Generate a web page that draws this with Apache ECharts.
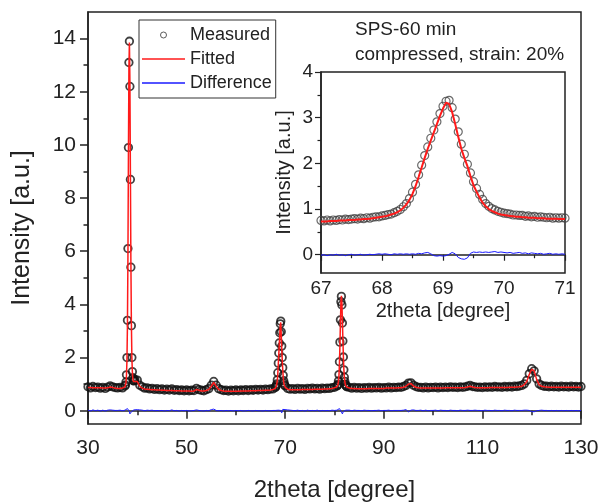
<!DOCTYPE html>
<html>
<head>
<meta charset="utf-8">
<script src="https://cdn.jsdelivr.net/npm/echarts@6/dist/echarts.min.js"></script>
<style>html,body{margin:0;padding:0;background:#fff;}#chart{width:601px;height:502px;}</style>
</head>
<body>
<div id="chart"></div>
<script>
// ---------- main pattern (2theta 30-130) ----------
const mainTheta = [
30,30.5,31,31.5,32,32.5,33,33.5,34,34.5,35,35.5,36,36.5,37,37.5,
37.6,37.7,37.8,37.9,38.0,38.1,38.2,38.3,38.4,38.5,38.6,38.7,38.8,38.9,39.0,39.1,39.2,39.3,39.4,
39.5,40,40.5,41,41.5,42,42.5,43,43.5,44,44.5,45,45.5,46,46.5,47,47.5,48,48.5,49,49.5,50,50.5,51,51.5,52,52.5,53,53.5,54,54.5,55,55.5,56,56.5,57,57.5,58,58.5,59,59.5,60,60.5,61,61.5,62,62.5,63,63.5,64,64.5,65,65.5,66,66.5,67,67.5,68,
68.1,68.2,68.3,68.4,68.5,68.6,68.7,68.8,68.9,69.0,69.1,69.2,69.3,69.4,69.5,69.6,69.7,69.8,69.9,70.0,
70.5,71,71.5,72,72.5,73,73.5,74,74.5,75,75.5,76,76.5,77,77.5,78,78.5,79,79.5,80,80.5,
80.6,80.7,80.8,80.9,81.0,81.1,81.2,81.3,81.4,81.5,81.6,81.7,81.8,81.9,82.0,82.1,82.2,82.3,82.4,
82.5,83,83.5,84,84.5,85,85.5,86,86.5,87,87.5,88,88.5,89,89.5,90,90.5,91,91.5,92,92.5,93,93.5,94,94.5,95,95.5,96,96.5,97,97.5,98,98.5,99,99.5,100,
100.5,101,101.5,102,102.5,103,103.5,104,104.5,105,105.5,106,106.5,107,107.5,108,108.5,109,109.5,110,110.5,111,111.5,112,112.5,113,113.5,114,114.5,115,
115.5,116,116.5,117,117.5,118,118.5,119,119.5,120,120.5,121,121.5,122,122.5,123,123.5,124,124.5,125,125.5,126,126.5,127,127.5,128,128.5,129,129.5,130
];
const mainMeasured = [
.90,.86,.91,.87,.89,.85,.88,.84,.89,.93,.90,.87,.86,.88,.86,.93,
.97,1.08,1.35,2.00,3.40,6.10,9.90,13.10,13.90,12.20,8.70,5.40,3.20,2.00,1.47,1.24,1.13,1.12,1.15,
1.18,1.15,.96,.90,.85,.86,.82,.84,.80,.83,.79,.82,.78,.81,.78,.82,.77,.79,.76,.78,.75,.78,.75,.77,.76,.84,.79,.77,.75,.79,.83,.96,1.10,.96,.83,.79,.76,.77,.74,.77,.75,.78,.75,.78,.76,.79,.76,.79,.77,.80,.78,.80,.78,.81,.79,.82,.82,.87,
.90,.95,1.01,1.16,1.43,1.79,2.17,2.55,2.93,3.27,3.37,2.97,2.43,2.00,1.62,1.33,1.13,1.03,.96,.93,
.84,.81,.83,.80,.84,.81,.83,.80,.84,.82,.85,.82,.84,.81,.85,.83,.85,.84,.87,.88,.93,
.95,1.00,1.12,1.36,1.84,2.58,3.42,4.10,4.30,3.98,3.30,2.62,2.02,1.54,1.26,1.10,1.00,.95,.92,
.90,.88,.85,.88,.85,.87,.84,.87,.85,.88,.85,.87,.86,.88,.85,.87,.86,.89,.86,.88,.87,.89,.88,.91,.95,1.04,1.05,.96,.91,.88,.88,.86,.89,.86,.88,.87,
.89,.86,.89,.87,.89,.87,.90,.88,.89,.87,.90,.88,.90,.92,.95,.91,.90,.88,.89,.87,.90,.88,.90,.88,.91,.89,.90,.88,.91,.89,
.91,.89,.92,.91,.93,.95,1.01,1.14,1.39,1.58,1.50,1.20,1.01,.95,.92,.92,.90,.92,.90,.91,.89,.92,.90,.91,.89,.92,.90,.91,.89,.91
];
const mainFitted = [
.87,.87,.86,.86,.86,.86,.85,.85,.86,.89,.87,.85,.84,.84,.85,.90,
.95,1.05,1.30,1.90,3.20,5.80,9.60,12.90,13.85,12.40,9.00,5.60,3.30,2.00,1.45,1.20,1.10,1.08,1.10,
1.14,1.10,.92,.85,.82,.81,.80,.79,.79,.78,.78,.77,.77,.76,.76,.76,.75,.75,.75,.74,.74,.74,.74,.73,.74,.80,.77,.74,.74,.76,.80,.92,1.06,.92,.80,.76,.74,.73,.73,.73,.73,.73,.73,.74,.74,.74,.74,.75,.75,.75,.76,.76,.76,.77,.77,.78,.80,.84,
.88,.92,.98,1.13,1.40,1.75,2.12,2.48,2.88,3.24,3.32,2.86,2.34,1.92,1.55,1.27,1.07,.97,.91,.88,
.81,.79,.79,.79,.79,.79,.80,.80,.80,.80,.80,.81,.81,.81,.81,.82,.82,.83,.84,.86,.90,
.93,.98,1.08,1.30,1.75,2.45,3.30,4.05,4.32,4.05,3.40,2.70,2.05,1.55,1.25,1.08,.98,.93,.90,
.88,.85,.84,.84,.83,.83,.83,.83,.83,.84,.84,.84,.84,.84,.84,.84,.85,.85,.85,.85,.85,.86,.86,.88,.92,1.00,1.02,.93,.88,.86,.85,.85,.85,.85,.85,.85,
.85,.85,.85,.85,.86,.86,.86,.86,.86,.86,.86,.86,.87,.89,.92,.89,.87,.86,.86,.86,.86,.86,.87,.87,.87,.87,.87,.87,.87,.87,
.88,.88,.88,.89,.90,.92,.98,1.10,1.36,1.56,1.50,1.18,.98,.92,.90,.89,.88,.88,.88,.88,.88,.88,.88,.88,.88,.88,.88,.88,.88,.88
];
const mainDifference = [
.02,-.01,.03,.00,.02,-.01,.02,-.01,.02,.03,.02,.01,.01,.02,.00,.02,
.01,.02,.02,.04,.08,.12,.10,.05,-.03,-.12,-.16,-.10,-.04,.00,.02,.03,.01,.03,.02,
.03,.04,.03,.02,.00,.02,.01,.02,.00,.01,.00,.01,-.01,.01,.00,.03,.00,.01,-.01,.01,.00,.01,-.01,.00,.01,.03,.01,.00,-.01,.01,.00,.04,.06,.01,.00,.01,-.01,.01,.00,.01,-.01,.01,.00,.01,-.01,.00,.01,.00,-.01,.01,.00,.00,-.01,.01,.00,.00,.01,.01,
.01,.02,.01,.02,.03,.02,.04,.03,-.03,-.02,.01,.03,-.08,-.06,.05,.06,.05,.05,.04,.04,
.03,.02,.01,.00,.02,.00,.01,-.01,.02,.00,.01,.00,.02,-.01,.01,.00,.01,.00,.02,.01,.02,
.01,.02,.03,.05,.08,.10,.07,.03,-.04,-.10,-.12,-.08,-.03,.00,.01,.02,.01,.02,.01,
.01,.02,.00,.02,.01,.01,.00,.02,.01,.01,.00,.01,.01,.02,.00,.01,.01,.02,.00,.01,.01,.01,.01,.02,.04,-.04,.02,.03,.01,.01,.02,.00,.02,.00,.01,.01,
.02,.00,.02,.01,.01,.00,.02,.01,.01,.00,.02,.01,.01,.02,.01,.01,.02,.01,.01,.00,.02,.01,.01,.00,.02,.01,.01,.00,.02,.01,
.01,.00,.02,.01,.01,.01,.02,.02,.01,-.03,-.04,.00,.01,.02,.01,.01,.00,.01,.00,.01,.00,.01,.00,.01,.00,.01,.00,.01,.00,.01
];

// ---------- inset (2theta 67-71) ----------
const insetTheta = [
67.00,67.05,67.10,67.15,67.20,67.25,67.30,67.35,67.40,67.45,67.50,67.55,67.60,67.65,67.70,67.75,67.80,67.85,67.90,67.95,
68.00,68.05,68.10,68.15,68.20,68.25,68.30,68.35,68.40,68.45,68.50,68.55,68.60,68.65,68.70,68.75,68.80,68.85,68.90,68.95,
69.00,69.05,69.10,69.15,69.20,69.25,69.30,69.35,69.40,69.45,69.50,69.55,69.60,69.65,69.70,69.75,69.80,69.85,69.90,69.95,
70.00,70.05,70.10,70.15,70.20,70.25,70.30,70.35,70.40,70.45,70.50,70.55,70.60,70.65,70.70,70.75,70.80,70.85,70.90,70.95,71.00
];
const insetMeasured = [
.75,.74,.76,.74,.76,.75,.77,.76,.78,.77,.78,.79,.78,.80,.79,.81,.80,.82,.83,.83,
.85,.86,.88,.89,.92,.95,.99,1.05,1.12,1.23,1.37,1.54,1.75,1.96,2.17,2.36,2.55,2.73,2.91,3.09,
3.25,3.36,3.38,3.22,2.97,2.69,2.42,2.20,1.98,1.79,1.60,1.45,1.32,1.21,1.12,1.06,1.01,.98,.95,.93,
.91,.90,.89,.87,.87,.86,.86,.84,.85,.83,.84,.82,.83,.82,.81,.82,.80,.81,.80,.81,.80
];
const insetFitted = [
.73,.73,.73,.74,.74,.74,.75,.75,.75,.76,.76,.76,.77,.77,.78,.78,.79,.80,.81,.82,
.83,.84,.86,.88,.90,.93,.97,1.03,1.10,1.20,1.33,1.50,1.70,1.91,2.12,2.32,2.50,2.68,2.86,3.04,
3.20,3.33,3.30,3.12,2.86,2.58,2.32,2.12,1.94,1.72,1.52,1.38,1.25,1.14,1.06,1.00,.96,.93,.90,.88,
.87,.86,.85,.84,.83,.83,.82,.82,.81,.81,.81,.80,.80,.80,.79,.79,.79,.79,.78,.78,.78
];
const insetDifference = [
-.01,.00,-.02,.00,-.01,.01,-.01,.00,-.02,.00,.01,-.01,.00,.01,-.01,.00,.01,.00,.01,.02,
.01,.02,.01,.00,.02,.01,.02,.01,.02,.01,.02,.01,.03,.02,.04,.05,.02,-.02,-.03,-.02,
-.03,-.02,.01,.05,.02,-.06,-.09,-.10,-.07,.03,.06,.05,.06,.05,.06,.05,.06,.07,.05,.06,
.05,.04,.05,.03,.04,.05,.03,.04,.02,.04,.03,.02,.03,.01,.02,.03,.01,.02,.01,.02,.01
];

// ---------- ticks ----------
const mainYMajor = [0,2,4,6,8,10,12,14];
const mainYMinor = [1,3,5,7,9,11,13];
const insetYMajor = [0,1,2,3,4];
const insetYMinor = [0.5,1.5,2.5,3.5];

const pairs = (xs, ys) => xs.map((x, i) => [x, ys[i]]);

const FONT = '"Liberation Sans", Arial, sans-serif';
const INK = '#222';
const RED = '#ff1a1a';
const BLUE = '#1a1aff';
const LINE_ICON = 'path://M0,0H40V1.4H0Z';

const axisLine = { show: true, lineStyle: { color: INK, width: 1.5 } };

const chart = echarts.init(document.getElementById('chart'), null, { renderer: 'canvas' });
chart.setOption({
  animation: false,
  backgroundColor: '#fff',
  textStyle: { fontFamily: FONT, color: INK },
  grid: [
    { left: 88, right: 20, top: 12, bottom: 78, show: true, borderColor: INK, borderWidth: 1.5, backgroundColor: '#fff',
      containLabel: false, outerBoundsMode: 'none' },
    { left: 321, right: 36, top: 72, bottom: 229, show: true, borderColor: INK, borderWidth: 1.5, backgroundColor: '#fff',
      containLabel: false, outerBoundsMode: 'none' }
  ],
  legend: {
    orient: 'vertical', left: 139, top: 20,
    padding: [6, 4, 6, 3],
    itemWidth: 43, itemHeight: 6, itemGap: 6,
    borderColor: '#333', borderWidth: 1, backgroundColor: '#fff',
    textStyle: { fontSize: 18, color: INK, fontFamily: FONT },
    data: [
      { name: 'Measured', icon: 'circle', itemStyle: { color: 'rgba(0,0,0,0)', borderColor: '#333', borderWidth: 1 } },
      { name: 'Fitted', icon: LINE_ICON, itemStyle: { color: RED, borderWidth: 0 } },
      { name: 'Difference', icon: LINE_ICON, itemStyle: { color: BLUE, borderWidth: 0 } }
    ]
  },
  xAxis: [
    { gridIndex: 0, type: 'value', min: 30, max: 130, interval: 20,
      name: '2theta [degree]', nameLocation: 'middle', nameGap: 54,
      nameTextStyle: { fontSize: 24, color: INK, fontFamily: FONT },
      axisLine: axisLine,
      axisTick: { show: true, length: 8, lineStyle: { color: INK, width: 1.5 } },
      minorTick: { show: true, splitNumber: 2, length: 4.5, lineStyle: { color: INK, width: 1.5 } },
      splitLine: { show: false }, minorSplitLine: { show: false },
      axisLabel: { fontSize: 21, color: INK, margin: 14, fontFamily: FONT } },
    { gridIndex: 1, type: 'value', min: 67, max: 71, interval: 1,
      name: '2theta [degree]', nameLocation: 'middle', nameGap: 28,
      nameTextStyle: { fontSize: 20, color: INK, fontFamily: FONT },
      axisLine: axisLine,
      axisTick: { show: true, length: 6, lineStyle: { color: INK, width: 1.2 } },
      minorTick: { show: true, splitNumber: 2, length: 3.5, lineStyle: { color: INK, width: 1.2 } },
      splitLine: { show: false },
      axisLabel: { fontSize: 19, color: INK, margin: 6, fontFamily: FONT } }
  ],
  yAxis: [
    { gridIndex: 0, type: 'value', min: -0.5, max: 15, position: 'left',
      name: 'Intensity [a.u.]', nameLocation: 'middle', nameGap: 53,
      nameTextStyle: { fontSize: 25, color: INK, fontFamily: FONT, padding: [0, 20, 0, 0] },
      axisLine: axisLine,
      axisTick: { show: true, length: 8, customValues: mainYMajor, lineStyle: { color: INK, width: 1.5 } },
      splitLine: { show: false },
      axisLabel: { fontSize: 21, color: INK, margin: 12, customValues: mainYMajor, fontFamily: FONT } },
    { gridIndex: 0, type: 'value', min: -0.5, max: 15, position: 'left',
      axisLine: { show: false },
      axisTick: { show: true, length: 4.5, customValues: mainYMinor, lineStyle: { color: INK, width: 1.5 } },
      splitLine: { show: false },
      axisLabel: { show: false } },
    { gridIndex: 1, type: 'value', min: -0.4, max: 4, position: 'left',
      name: 'Intensity [a.u.]', nameLocation: 'middle', nameGap: 27,
      nameTextStyle: { fontSize: 20, color: INK, fontFamily: FONT },
      axisLine: axisLine,
      axisTick: { show: true, length: 6, customValues: insetYMajor, lineStyle: { color: INK, width: 1.2 } },
      splitLine: { show: false },
      axisLabel: { fontSize: 19, color: INK, margin: 8, customValues: insetYMajor, fontFamily: FONT } },
    { gridIndex: 1, type: 'value', min: -0.4, max: 4, position: 'left',
      axisLine: { show: false },
      axisTick: { show: true, length: 3.5, customValues: insetYMinor, lineStyle: { color: INK, width: 1.2 } },
      splitLine: { show: false },
      axisLabel: { show: false } }
  ],
  graphic: [
    { type: 'text', left: 355, top: 18, z: 100,
      style: { text: 'SPS-60 min\ncompressed, strain: 20%', font: '19px ' + FONT, fill: INK, lineHeight: 24.5 } }
  ],
  series: [
    { name: 'Measured', type: 'scatter', xAxisIndex: 0, yAxisIndex: 0, z: 2,
      symbol: 'circle', symbolSize: 7.5,
      itemStyle: { color: 'rgba(0,0,0,0)', borderColor: '#111', borderWidth: 1.8 },
      data: pairs(mainTheta, mainMeasured) },
    { name: 'Fitted', type: 'line', xAxisIndex: 0, yAxisIndex: 0, z: 3,
      symbol: 'none', showSymbol: false,
      lineStyle: { color: RED, width: 1.5 }, itemStyle: { color: RED },
      data: pairs(mainTheta, mainFitted) },
    { name: 'Difference', type: 'line', xAxisIndex: 0, yAxisIndex: 0, z: 3,
      symbol: 'none', showSymbol: false,
      lineStyle: { color: BLUE, width: 1 }, itemStyle: { color: BLUE },
      data: pairs(mainTheta, mainDifference) },
    { name: 'Measured', type: 'scatter', xAxisIndex: 1, yAxisIndex: 2, z: 4,
      symbol: 'circle', symbolSize: 8,
      itemStyle: { color: 'rgba(0,0,0,0)', borderColor: '#444', borderWidth: 1.2 },
      data: pairs(insetTheta, insetMeasured) },
    { name: 'Fitted', type: 'line', xAxisIndex: 1, yAxisIndex: 2, z: 5,
      symbol: 'none', showSymbol: false,
      lineStyle: { color: RED, width: 2 }, itemStyle: { color: RED },
      data: pairs(insetTheta, insetFitted) },
    { name: 'Difference', type: 'line', xAxisIndex: 1, yAxisIndex: 2, z: 5,
      symbol: 'none', showSymbol: false,
      lineStyle: { color: BLUE, width: 1 }, itemStyle: { color: BLUE },
      data: pairs(insetTheta, insetDifference) }
  ]
});
</script>
</body>
</html>
